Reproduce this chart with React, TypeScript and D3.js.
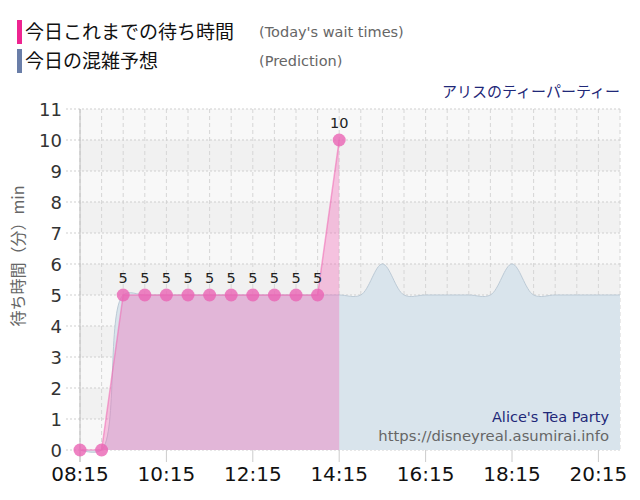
import * as d3 from 'd3';

// 実績（30分ごと）
const actualTimes = ['08:15', '08:45', '09:15', '09:45', '10:15', '10:45', '11:15', '11:45', '12:15', '12:45', '13:15', '13:45', '14:15'];
const actualValues = [0, 0, 5, 5, 5, 5, 5, 5, 5, 5, 5, 5, 10];

// 予想（30分ごと）
const predTimes = [
  '08:15', '08:45', '09:15', '09:45', '10:15', '10:45', '11:15', '11:45', '12:15', '12:45',
  '13:15', '13:45', '14:15', '14:45', '15:15', '15:45', '16:15', '16:45', '17:15', '17:45',
  '18:15', '18:45', '19:15', '19:45', '20:15', '20:45',
];
const predValues = [0, 0, 5, 5, 5, 5, 5, 5, 5, 5, 5, 5, 5, 5, 6, 5, 5, 5, 5, 5, 6, 5, 5, 5, 5, 5];

const xTicks = ['08:15', '10:15', '12:15', '14:15', '16:15', '18:15', '20:15'];
const yTicks = [0, 1, 2, 3, 4, 5, 6, 7, 8, 9, 10, 11];

const toMin = (t: string) => {
  const [h, m] = t.split(':').map(Number);
  return h * 60 + m;
};

const W = 640;
const H = 500;
const left = 80;
const right = 620;
const top = 109;
const bottom = 450;

const NUM_FONT = '"DejaVu Sans", Verdana, sans-serif';
const JP_FONT = '"Noto Sans CJK JP", sans-serif';

export default function App() {
  const x = d3.scaleLinear().domain([toMin('08:15'), toMin('20:45')]).range([left, right]);
  const y = d3.scaleLinear().domain([0, 11]).range([bottom, top]);

  const actual = actualTimes.map((t, i) => ({ t: toMin(t), v: actualValues[i] }));
  const pred = predTimes.map((t, i) => ({ t: toMin(t), v: predValues[i] }));

  const predArea = d3.area<{ t: number; v: number }>()
    .x((d) => x(d.t))
    .y0(y(0))
    .y1((d) => Math.max(y(d.v), top))
    .curve(d3.curveCatmullRom.alpha(0.5));
  const predLine = predArea.lineY1();

  const actArea = d3.area<{ t: number; v: number }>()
    .x((d) => x(d.t))
    .y0(y(0))
    .y1((d) => y(d.v));
  const actLine = actArea.lineY1();

  const gridTimes = d3.range(toMin('08:15'), toMin('20:45') + 1, 30);

  return (
    <svg width={W} height={H} style={{ display: 'block', margin: '-8px' }}>
      <rect width={W} height={H} fill="#fff" />

      {/* 凡例 */}
      <rect x={17} y={20} width={5} height={24} fill="#ee2490" />
      <text x={25} y={39} fontFamily={JP_FONT} fontSize={19} fill="#111">今日これまでの待ち時間</text>
      <text x={259} y={37} fontFamily={NUM_FONT} fontSize={14.5} fill="#666">(Today's wait times)</text>
      <rect x={17} y={49} width={5} height={24} fill="#6a7ea8" />
      <text x={25} y={68} fontFamily={JP_FONT} fontSize={19} fill="#111">今日の混雑予想</text>
      <text x={259} y={66} fontFamily={NUM_FONT} fontSize={14.5} fill="#666">(Prediction)</text>
      <text x={620} y={97} textAnchor="end" fontFamily={JP_FONT} fontSize={15} fill="#1f2878">アリスのティーパーティー</text>

      {/* 背景の帯 */}
      {yTicks.slice(0, -1).map((v) => (
        <rect key={v} x={left} y={y(v + 1)} width={right - left} height={y(v) - y(v + 1)}
          fill={v % 2 === 0 ? '#f8f8f8' : '#f1f1f1'} />
      ))}

      {/* グリッド */}
      {gridTimes.map((t) => (
        <line key={t} x1={x(t)} x2={x(t)} y1={top} y2={bottom} stroke="#d6d6d6" strokeDasharray="4,3" />
      ))}
      {yTicks.map((v) => (
        <line key={v} x1={66} x2={right} y1={y(v)} y2={y(v)} stroke="#cfcfcf" strokeDasharray="2,2" />
      ))}

      {/* 予想 */}
      <path d={predArea(pred) ?? ''} fill="#d9e4ec" />
      <path d={predLine(pred) ?? ''} fill="none" stroke="#bccad6" strokeWidth={1} />

      {/* 実績 */}
      <path d={actArea(actual) ?? ''} fill="rgba(240,100,180,0.36)" />
      <path d={actLine(actual) ?? ''} fill="none" stroke="rgba(240,100,176,0.55)" strokeWidth={1.5} />

      {/* 軸 */}
      <line x1={left} x2={left} y1={top} y2={bottom + 12} stroke="#bbb" />
      {xTicks.map((t) => (
        <line key={t} x1={x(toMin(t))} x2={x(toMin(t))} y1={bottom} y2={bottom + 12} stroke="#ccc" />
      ))}

      {actual.map((d, i) => (
        <g key={i}>
          <circle cx={x(d.t)} cy={y(d.v)} r={6.5} fill="rgba(234,100,180,0.8)" />
          {d.v > 0 && (
            <text x={x(d.t)} y={y(d.v) - 12} textAnchor="middle" fontFamily={NUM_FONT} fontSize={14.5} fill="#222">
              {d.v}
            </text>
          )}
        </g>
      ))}

      {yTicks.map((v) => (
        <text key={v} x={62} y={y(v) + 6.5} textAnchor="end" fontFamily={NUM_FONT} fontSize={18} fill="#333">{v}</text>
      ))}
      {xTicks.map((t) => (
        <text key={t} x={x(toMin(t))} y={481} textAnchor="middle" fontFamily={NUM_FONT} fontSize={20} fill="#111">{t}</text>
      ))}

      <text transform="translate(24,256) rotate(-90)" textAnchor="middle" fontFamily={JP_FONT} fontSize={16} fill="#666">
        待ち時間（分）min
      </text>

      <text x={609} y={422} textAnchor="end" fontFamily={NUM_FONT} fontSize={14.5} fill="#1f2878">Alice's Tea Party</text>
      <text x={609} y={441} textAnchor="end" fontFamily={NUM_FONT} fontSize={14.8} fill="#666">https://disneyreal.asumirai.info</text>
    </svg>
  );
}
